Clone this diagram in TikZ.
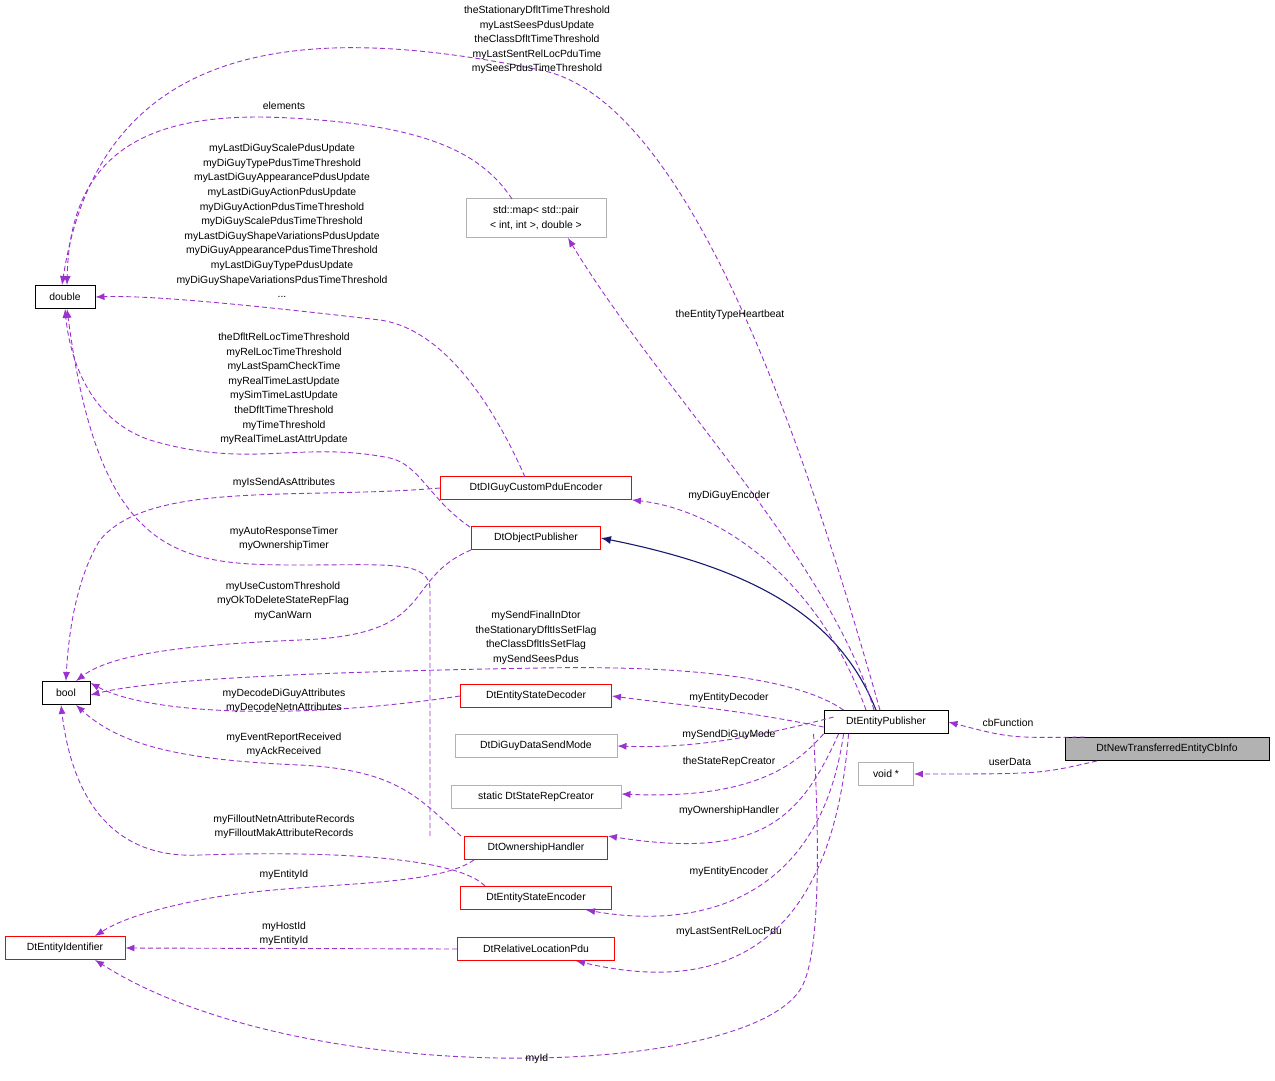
\documentclass[tikz,border=0pt]{standalone}
\usepackage{fontspec}
\setmainfont{Liberation Sans}
\usetikzlibrary{arrows.meta}
\begin{document}
\begin{tikzpicture}[x=1pt,y=-1pt,
 font=\fontsize{10.4}{14.6}\selectfont,
 line width=0.9pt,
 box/.style={draw=#1,fill=white,inner sep=0pt,minimum height=23pt,anchor=center},
 box/.default=red,
 lbl/.style={align=center,inner sep=0pt},
 dep/.style={draw={rgb,255:red,154;green,50;blue,205},dash pattern=on 5pt off 3pt,-{Latex[length=9pt,width=7pt]}},
 inh/.style={draw={rgb,255:red,25;green,25;blue,112},line width=1.1pt,-{Latex[length=10pt,width=8pt]}}]
\useasboundingbox (0,0) rectangle (1275,1081);
\node[box=black,minimum width=60pt] (dbl) at (65,297) {double};
\node[box=black,minimum width=48pt] (bool) at (66,693) {bool};
\node[box,minimum width=120pt] (eid) at (65,948) {DtEntityIdentifier};
\node[box=gray!60,minimum width=140pt,minimum height=39pt,align=center] (map) at (536,218) {std::map\textless{} std::pair\\\textless{} int, int \textgreater{}, double \textgreater{}};
\node[box,minimum width=191pt] (dig) at (536,488) {DtDIGuyCustomPduEncoder};
\node[box,minimum width=129pt] (op) at (536,538) {DtObjectPublisher};
\node[box,minimum width=151pt] (esd) at (536,696) {DtEntityStateDecoder};
\node[box=gray!60,minimum width=162pt] (dsm) at (536,746) {DtDiGuyDataSendMode};
\node[box=gray!60,minimum width=170pt] (src) at (536,797) {static DtStateRepCreator};
\node[box,minimum width=143pt] (own) at (536,848) {DtOwnershipHandler};
\node[box,minimum width=151pt] (ese) at (536,898) {DtEntityStateEncoder};
\node[box,minimum width=157pt] (rlp) at (536,949) {DtRelativeLocationPdu};
\node[box=black,minimum width=124pt] (ep) at (886,722) {DtEntityPublisher};
\node[box=gray!60,minimum width=55pt] (void) at (886,774) {void *};
\node[box=black,fill=gray!60,minimum width=204pt] (cb) at (1167,749) {DtNewTransferredEntityCbInfo};

% edges from cb
\draw[dep] (cb.north west) ++(20,0) .. controls (1010,738) .. (ep.east);
\node[lbl] at (1008,723) {cbFunction};
\draw[dep] (cb.south) ++(-70,0) .. controls (1040,774) .. (void.east);
\node[lbl] at (1010,762) {userData};

% inheritance
\draw[inh] (ep.north) ++(-10,0) .. controls (840,620) and (760,570) .. (op.east);

% to double
\draw[dep] (ep.north) ++(-6,0) .. controls (820,500) and (700,100) .. (540,70) .. controls (300,20) and (100,40) .. ([xshift=-3pt]dbl.north);
\node[lbl] at (537,40) {theStationaryDfltTimeThreshold\\myLastSeesPdusUpdate\\theClassDfltTimeThreshold\\myLastSentRelLocPduTime\\mySeesPdusTimeThreshold};
\draw[dep] (512,199) .. controls (480,150) and (420,125) .. (290,118) .. controls (150,110) and (70,150) .. ([xshift=2pt]dbl.north);
\node[lbl] at (284,106) {elements};
\draw[dep] (525,477) .. controls (500,420) and (450,330) .. (380,320) .. controls (250,305) and (150,295) .. (dbl.east);
\node[lbl] at (282,221) {myLastDiGuyScalePdusUpdate\\myDiGuyTypePdusTimeThreshold\\myLastDiGuyAppearancePdusUpdate\\myLastDiGuyActionPdusUpdate\\myDiGuyActionPdusTimeThreshold\\myDiGuyScalePdusTimeThreshold\\myLastDiGuyShapeVariationsPdusUpdate\\myDiGuyAppearancePdusTimeThreshold\\myLastDiGuyTypePdusUpdate\\myDiGuyShapeVariationsPdusTimeThreshold\\...};
\draw[dep] (470,527) .. controls (430,500) and (420,465) .. (390,458) .. controls (300,440) and (250,470) .. (150,440) .. controls (90,420) and (70,360) .. (dbl.south);
\node[lbl] at (284,389) {theDfltRelLocTimeThreshold\\myRelLocTimeThreshold\\myLastSpamCheckTime\\myRealTimeLastUpdate\\mySimTimeLastUpdate\\theDfltTimeThreshold\\myTimeThreshold\\myRealTimeLastAttrUpdate};
\draw[dep] (430,836) -- (430,590) .. controls (430,560) and (390,565) .. (300,565) .. controls (180,565) and (100,560) .. ([xshift=2pt]dbl.south);
\node[lbl] at (284,539) {myAutoResponseTimer\\myOwnershipTimer};

% to bool
\draw[dep] (dig.west) .. controls (300,500) and (150,480) .. (100,540) .. controls (75,580) and (68,640) .. (bool.north);
\node[lbl] at (284,483) {myIsSendAsAttributes};
\draw[dep] (op.south west) ++(0,0) .. controls (400,580) and (440,635) .. (300,640) .. controls (180,645) and (110,655) .. ([xshift=10pt]bool.north);
\node[lbl] at (283,601) {myUseCustomThreshold\\myOkToDeleteStateRepFlag\\myCanWarn};
\draw[dep] (ep.north west) ++(20,0) .. controls (800,680) and (700,665) .. (540,668) .. controls (300,672) and (150,680) .. ([yshift=-2pt]bool.east);
\node[lbl] at (536,638) {mySendFinalInDtor\\theStationaryDfltIsSetFlag\\theClassDfltIsSetFlag\\mySendSeesPdus};
\draw[dep] (esd.west) .. controls (300,720) and (150,715) .. ([yshift=10pt]bool.east);
\node[lbl] at (284,701) {myDecodeDiGuyAttributes\\myDecodeNetnAttributes};
\draw[dep] (own.north west) ++(-3,0) .. controls (420,800) and (400,770) .. (300,765) .. controls (180,760) and (120,745) .. ([xshift=10pt]bool.south);
\node[lbl] at (284,745) {myEventReportReceived\\myAckReceived};
\draw[dep] (ese.north west) ++(25,0) .. controls (460,860) and (350,850) .. (200,855) .. controls (100,860) and (70,780) .. ([xshift=-5pt]bool.south);
\node[lbl] at (284,827) {myFilloutNetnAttributeRecords\\myFilloutMakAttributeRecords};

% to entity identifier
\draw[dep] (own.south west) ++(10,0) .. controls (430,890) and (300,880) .. (200,900) .. controls (150,910) and (120,920) .. ([xshift=30pt]eid.north);
\node[lbl] at (284,875) {myEntityId};
\draw[dep] (rlp.west) -- (eid.east);
\node[lbl] at (284,934) {myHostId\\myEntityId};
\draw[dep] (ep.south west) ++(-10,0) .. controls (820,850) and (820,960) .. (800,990) .. controls (740,1080) and (300,1090) .. ([xshift=30pt]eid.south);
\node[lbl] at (537,1059) {myId};

% ep to others
\draw[dep] (ep.north) ++(-12,0) .. controls (830,560) and (660,390) .. ([xshift=32pt]map.south);
\node[lbl] at (730,315) {theEntityTypeHeartbeat};
\draw[dep] (ep.north) ++(-20,0) .. controls (820,580) and (720,510) .. (dig.south east);
\node[lbl] at (729,496) {myDiGuyEncoder};
\draw[dep] ([yshift=-5pt]ep.west) .. controls (740,710) and (680,705) .. (esd.east);
\node[lbl] at (729,698) {myEntityDecoder};
\draw[dep] ([yshift=5pt]ep.west) ++(10,0) .. controls (740,742) and (680,748) .. (dsm.east);
\node[lbl] at (729,735) {mySendDiGuyMode};
\draw[dep] (ep.south west) ++(0,0) .. controls (800,760) and (760,800) .. ([yshift=3pt]src.east);
\node[lbl] at (729,762) {theStateRepCreator};
\draw[dep] (ep.south west) ++(15,0) .. controls (800,820) and (760,860) .. ([yshift=12pt]own.east);
\node[lbl] at (729,811) {myOwnershipHandler};
\draw[dep] (ep.south west) ++(20,0) .. controls (820,900) and (700,930) .. ([xshift=50pt]ese.south);
\node[lbl] at (729,872) {myEntityEncoder};
\draw[dep] (ep.south west) ++(25,0) .. controls (830,970) and (700,990) .. ([xshift=40pt]rlp.south);
\node[lbl] at (729,932) {myLastSentRelLocPdu};
\end{tikzpicture}
\end{document}
